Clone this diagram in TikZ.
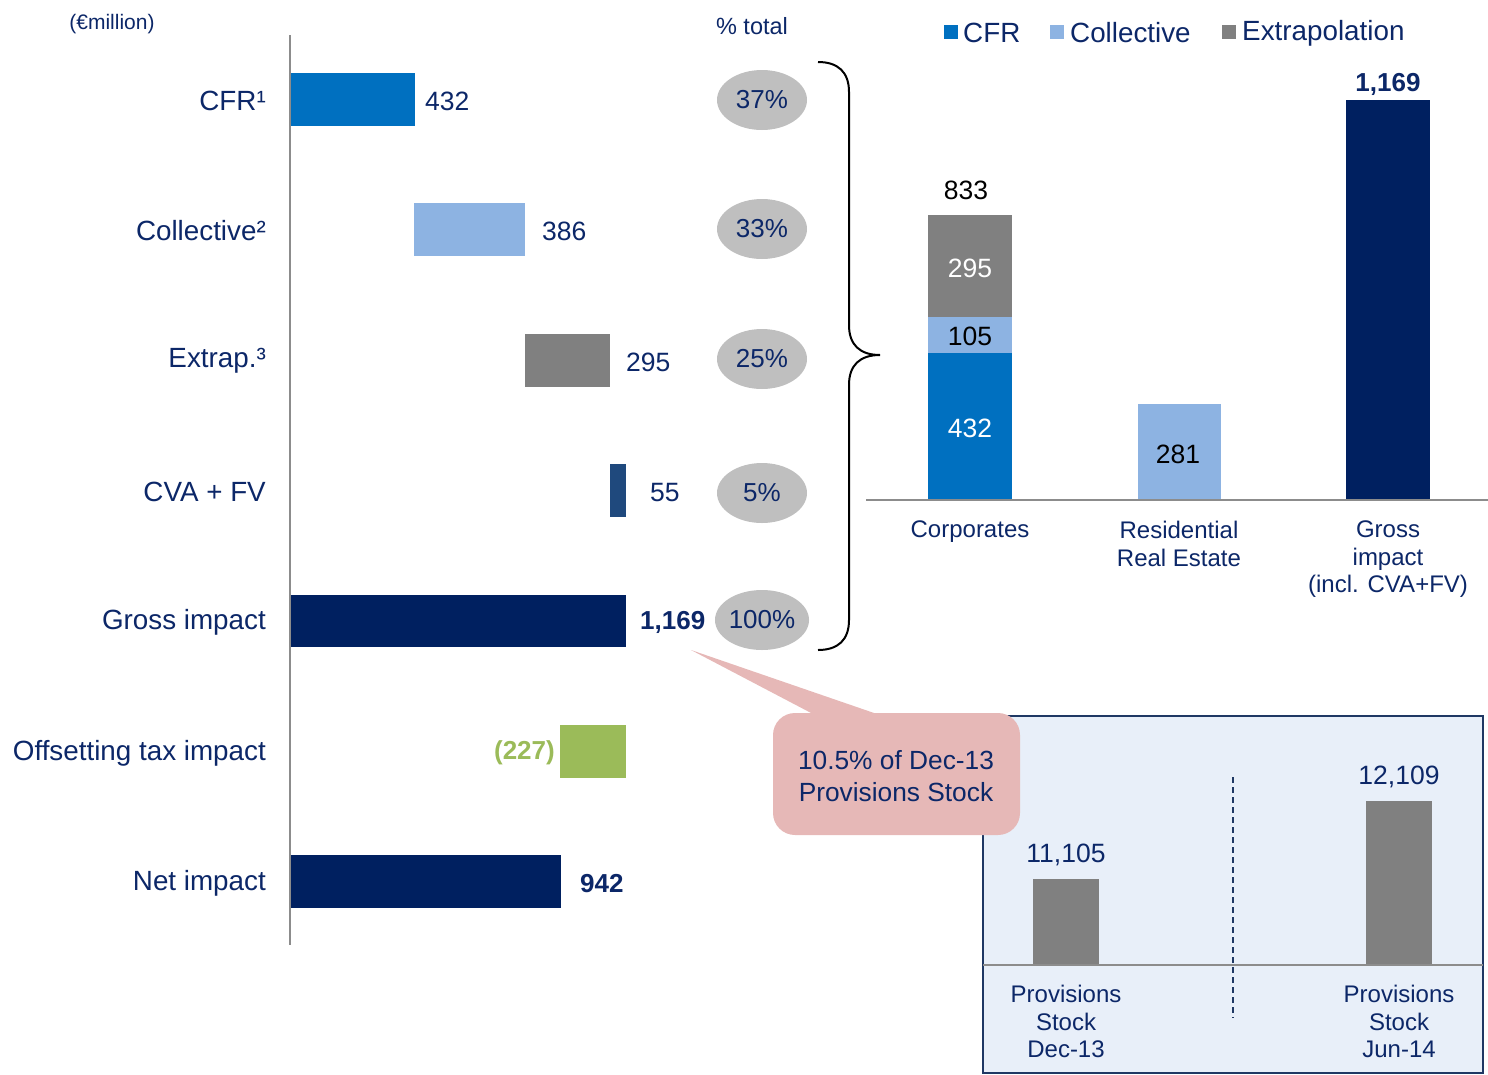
\documentclass[tikz,border=0pt]{standalone}
\usepackage{fontspec}
\setmainfont{Liberation Sans}
\usetikzlibrary{shapes.geometric}
\definecolor{navy}{HTML}{002060}
\definecolor{txt}{HTML}{0C2768}
\definecolor{cfr}{HTML}{0070C0}
\definecolor{coll}{HTML}{8DB3E2}
\definecolor{extr}{HTML}{808080}
\definecolor{cva}{HTML}{1F497D}
\definecolor{tax}{HTML}{9BBB59}
\definecolor{ell}{HTML}{BFBFBF}
\definecolor{callout}{HTML}{E6B8B7}
\definecolor{boxfill}{HTML}{E8EFF9}
\definecolor{boxline}{HTML}{1F3864}
\definecolor{axisgray}{HTML}{8C8C8C}
\tikzset{
  lbl/.style={inner sep=0pt, text=txt, font=\fontsize{26.5}{30}\selectfont},
  side/.style={lbl, anchor=east, font=\fontsize{27.8}{30}\selectfont},
  cat/.style={inner sep=0pt, text=txt, font=\fontsize{24}{27.5}\selectfont, align=center},
  pct/.style={ellipse, fill=ell, minimum width=90pt, minimum height=60pt, inner sep=0pt, text=txt, font=\fontsize{26}{30}\selectfont},
  bold/.style={font=\fontsize{26}{30}\selectfont\bfseries},
  legsq/.style={minimum width=14pt, minimum height=14pt, inner sep=0pt},
}
\begin{document}
\begin{tikzpicture}[x=1pt,y=-1pt]
\useasboundingbox (0,0) rectangle (1488,1074);
% ---------- left waterfall ----------
\draw[axisgray, line width=1.5pt] (290,35) -- (290,945);
\fill[cfr]  (291,73)  rectangle (415,126);
\fill[coll] (414,203) rectangle (525,256);
\fill[extr] (525,334) rectangle (610,387);
\fill[cva]  (610,464) rectangle (626,517);
\fill[navy] (291,595) rectangle (626,647);
\fill[tax]  (560,725) rectangle (626,778);
\fill[navy] (291,855) rectangle (561,908);

\node[lbl, font=\fontsize{21}{24}\selectfont] (unit) at (112,24) {(€million)};
\node[side] (l1) at (266,101) {CFR¹};
\node[side] (l2) at (266,231) {Collective²};
\node[side] (l3) at (266,361) {Extrap.³};
\node[side] (l4) at (266,492) {CVA + FV};
\node[side] (l5) at (266,622) {Gross impact};
\node[side] (l6) at (266,753) {Offsetting tax impact};
\node[side] (l7) at (266,883) {Net impact};

\node[lbl, anchor=west] (v1) at (425,101) {432};
\node[lbl, anchor=west] (v2) at (542,231) {386};
\node[lbl, anchor=west] (v3) at (626,362) {295};
\node[lbl, anchor=west] (v4) at (650,493) {55};
\node[lbl, bold, anchor=west] (v5) at (640,622) {1,169};
\node[lbl, bold, anchor=east, text=tax] (v6) at (555,753) {(227)};
\node[lbl, bold, anchor=west] (v7) at (580,884) {942};

\node[lbl, font=\fontsize{23.5}{27}\selectfont] (ptot) at (752,26) {\% total};
\node[pct] (p1) at (762,100)  {37\%};
\node[pct] (p2) at (762,229) {33\%};
\node[pct] (p3) at (762,359) {25\%};
\node[pct] (p4) at (762,493) {5\%};
\node[pct] (p5) at (762,620) {100\%};

% brace
\draw[black, line width=2pt]
  (818,62) .. controls (838,62) and (849,72) .. (849,92) -- (849,325)
  .. controls (849,345) and (860,355) .. (880,355)
  .. controls (860,355) and (849,365) .. (849,385) -- (849,620)
  .. controls (849,640) and (838,650) .. (818,650);

% ---------- right stacked chart ----------
\node[legsq, fill=cfr]  (sq1) at (951,32) {};
\node[lbl, anchor=west, font=\fontsize{27.8}{30}\selectfont] (t1) at (963,33) {CFR};
\node[legsq, fill=coll] (sq2) at (1057,32) {};
\node[lbl, anchor=west, font=\fontsize{27.8}{30}\selectfont] (t2) at (1070,33) {Collective};
\node[legsq, fill=extr] (sq3) at (1229,32) {};
\node[lbl, anchor=west, font=\fontsize{27.8}{30}\selectfont] (t3) at (1242,33) {Extrapolation};

\fill[cfr]  (928,353) rectangle (1012,500);
\fill[coll] (928,317) rectangle (1012,353);
\fill[extr] (928,215) rectangle (1012,317);
\fill[coll] (1138,404) rectangle (1221,500);
\fill[navy] (1346,100) rectangle (1430,500);
\draw[axisgray, line width=2pt] (866,500) -- (1488,500);

\node[lbl, text=black] (c833) at (966,190) {833};
\node[lbl, text=white] (c295) at (970,268) {295};
\node[lbl, text=black] (c105) at (970,336) {105};
\node[lbl, text=white] (c432) at (970,428) {432};
\node[lbl, text=black] (c281) at (1178,454) {281};
\node[lbl, bold] (c1169) at (1388,84) {1,169};

\node[cat, anchor=north] (k1) at (970,521) {Corporates};
\node[cat, anchor=north] (k2) at (1179,521) {Residential\\Real Estate};
\node[cat, anchor=north] (k3) at (1388,521) {Gross\\impact\\(incl. CVA+FV)};

% ---------- provisions box ----------
\draw[boxline, fill=boxfill, line width=1.2pt] (983,716) rectangle (1483,1073);
\fill[extr] (1033,879) rectangle (1099,965);
\fill[extr] (1366,801) rectangle (1432,965);
\draw[axisgray, line width=2pt] (983,965) -- (1483,965);
\draw[boxline, line width=1.2pt, dash pattern=on 6pt off 4pt] (1233,777) -- (1233,1018);
\node[lbl] (b1) at (1066,855) {11,105};
\node[lbl] (b2) at (1399,777) {12,109};
\node[cat, anchor=north] (bk1) at (1066,985) {Provisions\\Stock\\Dec-13};
\node[cat, anchor=north] (bk2) at (1399,985) {Provisions\\Stock\\Jun-14};

% ---------- callout ----------
\coordinate (tip) at (691,650);
\fill[callout] (813,714) -- (tip) -- (877,714) -- cycle;
\fill[callout, rounded corners=22pt] (773,713) rectangle (1020,835);
\node[lbl, align=center, font=\fontsize{26.3}{32}\selectfont] (co) at (896,776) {10.5\% of Dec-13\\Provisions Stock};
\end{tikzpicture}
\end{document}
